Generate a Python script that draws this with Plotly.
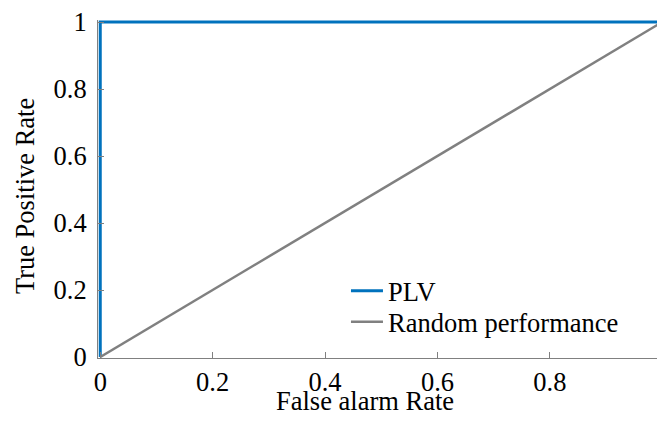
import plotly.graph_objects as go

# Data
plv_fpr = [0, 0, 1]
plv_tpr = [0, 1, 1]
rand_fpr = [0, 1]
rand_tpr = [0, 1]
tick_vals = [0, 0.2, 0.4, 0.6, 0.8, 1]
tick_text = ["0", "0.2", "0.4", "0.6", "0.8", "1"]
x_title = "False alarm Rate"
y_title = "True Positive Rate"

FONT = "Liberation Serif"
tf = dict(family=FONT, size=26.5, color="black")

fig = go.Figure()
fig.add_trace(go.Scatter(x=plv_fpr, y=plv_tpr, mode="lines", name="PLV",
                         line=dict(color="#0072BD", width=3), legend="legend"))
fig.add_trace(go.Scatter(x=rand_fpr, y=rand_tpr, mode="lines", name="Random performance",
                         line=dict(color="#808080", width=2.5), legend="legend2"))

axis_common = dict(showgrid=False, zeroline=False, showline=True, linecolor="#808080",
                   linewidth=1, ticks="inside", ticklen=6, tickcolor="#808080",
                   tickvals=tick_vals, ticktext=tick_text, tickfont=tf)

leg_common = dict(x=0.4436, xanchor="left", yanchor="middle", bgcolor="rgba(0,0,0,0)",
                  font=tf, itemwidth=32)

fig.update_layout(
    template="none",
    width=657, height=434,
    margin=dict(l=98, r=0, t=20, b=76),
    plot_bgcolor="white", paper_bgcolor="white",
    font=tf,
    xaxis=dict(range=[-0.004, 0.9907], **axis_common),
    yaxis=dict(range=[-0.003, 1.006], ticklabelstandoff=5, **axis_common),
    legend=dict(y=0.198, **leg_common),
    legend2=dict(y=0.1065, **leg_common),
    showlegend=True,
)
# axis titles
fig.add_annotation(text=x_title, xref="paper", yref="paper", x=0.4785, y=-0.127,
                   showarrow=False, xanchor="center", yanchor="middle", font=tf)
fig.add_annotation(text=y_title, xref="paper", yref="paper", x=-0.1306, y=0.479,
                   textangle=-90, showarrow=False, xanchor="center", yanchor="middle", font=tf)
# last x tick label (partly beyond the right edge, as in the reference)
fig.add_annotation(text=tick_text[-1], xref="paper", yref="paper", x=(662 - 98) / 559, y=0,
                   yshift=-23, showarrow=False, xanchor="center", yanchor="middle", font=tf)

fig.write_html("out.html")
